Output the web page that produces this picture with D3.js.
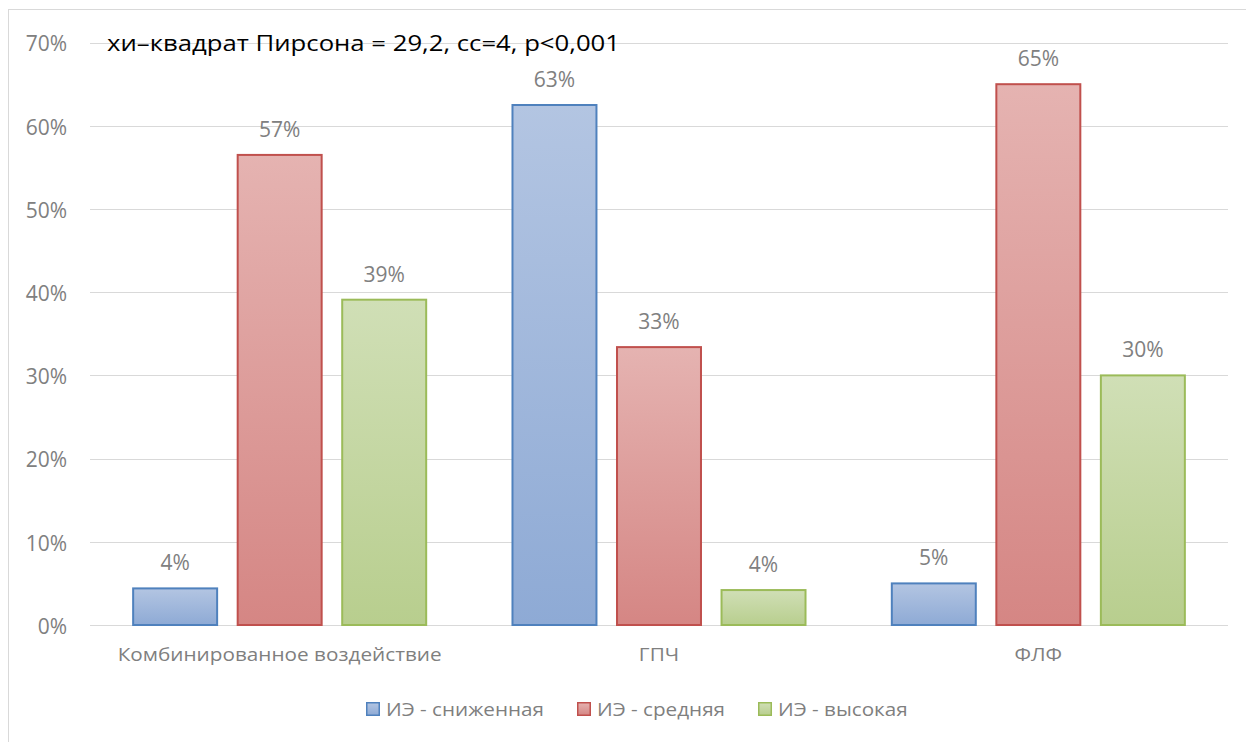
<!DOCTYPE html>
<html><head><meta charset="utf-8">
<script src="https://cdn.jsdelivr.net/npm/d3@7"></script>
<style>html,body{margin:0;padding:0;background:#fff;}</style>
</head><body>
<svg id="c" width="1246" height="742"></svg>
<script>
const categories = ["Комбинированное воздействие", "ГПЧ", "ФЛФ"];
const seriesNames = ["ИЭ - сниженная", "ИЭ - средняя", "ИЭ - высокая"];
const lowValues = [0.044, 0.625, 0.050];
const midValues = [0.565, 0.334, 0.650];
const highValues = [0.391, 0.042, 0.300];
const valueLabels = [["4%", "63%", "5%"], ["57%", "33%", "65%"], ["39%", "4%", "30%"]];
const yTicks = [0, 0.1, 0.2, 0.3, 0.4, 0.5, 0.6, 0.7];
const title = "хи–квадрат Пирсона = 29,2, сс=4, р<0,001";

(function(){
const series = [lowValues, midValues, highValues];
const colors = [
  {top:"#b3c5e2", bot:"#8eaad5", stroke:"#4f81bd"},
  {top:"#e5b3b1", bot:"#d58684", stroke:"#c0504d"},
  {top:"#d0dfb6", bot:"#b8ce8e", stroke:"#9bbb59"}
];
const font = "'Open Sans', 'Noto Sans', sans-serif";

const svg = d3.select("#c");
const defs = svg.append("defs");
colors.forEach((c,i)=>{
  const g = defs.append("linearGradient").attr("id","g"+i).attr("x1",0).attr("y1",0).attr("x2",0).attr("y2",1);
  g.append("stop").attr("offset","0%").attr("stop-color",c.top);
  g.append("stop").attr("offset","100%").attr("stop-color",c.bot);
});

svg.append("rect").attr("x",8.5).attr("y",9.5).attr("width",1400).attr("height",900)
  .attr("fill","none").attr("stroke","#d9d9d9").attr("stroke-width",1);

const pl = 90, pr = 1228, pt = 42.6, pb = 625;
const y = d3.scaleLinear().domain([0,0.7]).range([pb, pt]);
const x0 = d3.scaleBand().domain(categories).range([pl,pr]).padding(0);
const x1 = d3.scaleBand().domain(d3.range(3)).range([0, x0.bandwidth()]).paddingInner(0.187).paddingOuter(0.408);

svg.append("g").selectAll("line").data(yTicks).join("line")
  .attr("x1",pl).attr("x2",pr)
  .attr("y1",d=>Math.round(y(d))+0.5).attr("y2",d=>Math.round(y(d))+0.5)
  .attr("stroke","#d9d9d9").attr("stroke-width",1);

const yAxis = d3.axisLeft(y).tickValues(yTicks).tickFormat(d3.format(".0%")).tickSize(0).tickPadding(0);
const ya = svg.append("g").attr("transform",`translate(67,0)`).call(yAxis);
ya.select(".domain").remove();
ya.selectAll("text").attr("font-family",font).attr("font-size",21).attr("fill","#808080").attr("dy",8.3);

categories.forEach((cat,ci)=>{
  const g = svg.append("g").attr("transform",`translate(${x0(cat)},0)`);
  series.forEach((vals,si)=>{
    g.append("rect")
      .attr("x", x1(si)+0.5).attr("y", y(vals[ci])).attr("width", x1.bandwidth()-1).attr("height", pb - y(vals[ci]))
      .attr("fill",`url(#g${si})`).attr("stroke",colors[si].stroke).attr("stroke-width",2);
    g.append("text").attr("x", x1(si)+x1.bandwidth()/2).attr("y", y(vals[ci]) - 18)
      .attr("text-anchor","middle").attr("font-family",font).attr("font-size",21).attr("fill","#808080")
      .text(valueLabels[si][ci]);
  });
});

// category labels: first label measured 324px wide in the reference
const cl = svg.append("g").selectAll("text").data(categories).join("text")
  .attr("x",d=>x0(d)+x0.bandwidth()/2).attr("y",661)
  .attr("text-anchor","middle").attr("font-family",font).attr("font-size",18).attr("fill","#7f7f7f")
  .text(d=>d);
const cf = 324 / cl.nodes()[0].getComputedTextLength();
cl.each(function(){ d3.select(this).attr("textLength", this.getComputedTextLength()*cf).attr("lengthAdjust","spacingAndGlyphs"); });

svg.append("text").attr("x",107).attr("y",51).attr("font-family",font).attr("font-size",22).attr("fill","#000")
  .attr("textLength",513).attr("lengthAdjust","spacingAndGlyphs").text(title);

// legend: first entry text measured 158px wide in the reference
const lg = svg.append("g");
const probe = lg.append("text").attr("font-family",font).attr("font-size",18).text(seriesNames[0]);
const lf = 158 / probe.node().getComputedTextLength();
probe.remove();
let lx = 366;
seriesNames.forEach((n,i)=>{
  lg.append("rect").attr("x",lx+0.75).attr("y",702.75).attr("width",12.5).attr("height",12.5)
    .attr("fill",`url(#g${i})`).attr("stroke",colors[i].stroke).attr("stroke-width",1.5);
  const t = lg.append("text").attr("x",lx+20).attr("y",716).attr("font-family",font).attr("font-size",18).attr("fill","#7f7f7f").text(n);
  const w = t.node().getComputedTextLength()*lf;
  t.attr("textLength", w).attr("lengthAdjust","spacingAndGlyphs");
  lx = lx + 20 + w + 33;
});
})();
</script>
</body></html>
